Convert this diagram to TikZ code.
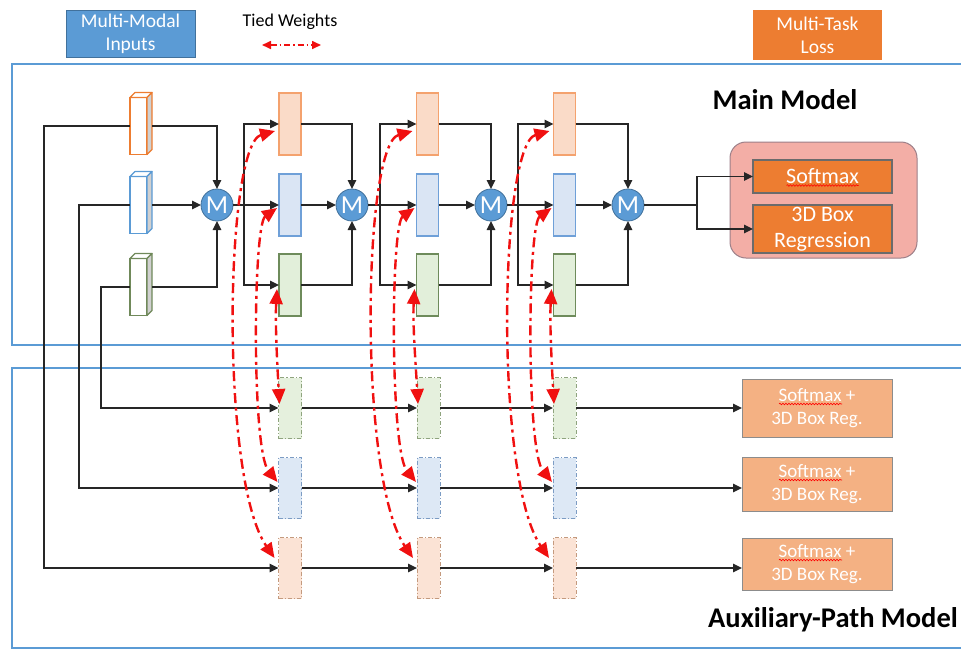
\documentclass[tikz,border=0pt]{standalone}
\usepackage{fontspec}
\setmainfont{Carlito}
\usetikzlibrary{arrows.meta,decorations.pathmorphing,calc}

\definecolor{frameblue}{HTML}{5B9BD5}
\definecolor{inblue}{HTML}{5B9BD5}
\definecolor{inblueedge}{HTML}{41719C}
\definecolor{lossorange}{HTML}{ED7D31}
\definecolor{headedge}{HTML}{6B6B6B}
\definecolor{pinkbg}{HTML}{F3AEA6}
\definecolor{pinkedge}{HTML}{9C7F88}
\definecolor{auxout}{HTML}{F4B183}
\definecolor{auxoutedge}{HTML}{8C8C8C}
\definecolor{ofill}{HTML}{FADBC8}
\definecolor{oedge}{HTML}{F4A26E}
\definecolor{bfill}{HTML}{DAE5F4}
\definecolor{bedge}{HTML}{6FA0D8}
\definecolor{gfill}{HTML}{E2EFDA}
\definecolor{gedge}{HTML}{6E8B5B}
\definecolor{oafill}{HTML}{FBE3D5}
\definecolor{oaedge}{HTML}{C49A7E}
\definecolor{bafill}{HTML}{DDE8F5}
\definecolor{baedge}{HTML}{7C9CC4}
\definecolor{gafill}{HTML}{E5F0DD}
\definecolor{gaedge}{HTML}{8FA47E}
\definecolor{cubeo}{HTML}{ED7D31}
\definecolor{cubeb}{HTML}{5B9BD5}
\definecolor{cubeg}{HTML}{70895A}
\definecolor{cubeside}{HTML}{D0D0D0}
\definecolor{wire}{HTML}{262626}
\definecolor{tiedred}{HTML}{F01010}

% input modality drawn as a small cuboid: name, edge colour, x, y
\newcommand\inputcube[4]{%
  \node[cubefront, draw=#2] (#1) at (#3,#4) {};
  \draw[draw=#2, line width=1.2pt, fill=white, line join=round]
    (#1.north west) -- ++(5,-5) -- ++(17,0) -- (#1.north east) -- cycle;
  \draw[draw=#2, line width=1.2pt, fill=cubeside, line join=round]
    (#1.north east) -- ++(5,-5) -- ($(#1.south east)+(5,-5)$) -- (#1.south east) -- cycle;
}

\begin{document}
\begin{tikzpicture}[x=1pt, y=-1pt,
  every node/.style={outer sep=0pt},
  wireline/.style={draw=wire, line width=1.3pt},
  wirearrow/.style={wireline, -{Triangle[length=9pt,width=8.5pt]}},
  tiedline/.style={draw=tiedred, line width=2.4pt,
    dash pattern=on 10pt off 4.5pt on 3pt off 4.5pt,
    {Triangle[length=15pt,width=13pt]}-{Triangle[length=15pt,width=13pt]}},
  tiedlegend/.style={draw=tiedred, line width=1.6pt,
    dash pattern=on 6pt off 3pt on 1.5pt off 3pt,
    {Triangle[length=9pt,width=8pt]}-{Triangle[length=9pt,width=8pt]}},
  stage/.style={rectangle, minimum width=22pt, minimum height=62pt, inner sep=0pt, line width=1.2pt},
  ostage/.style={stage, draw=oedge, fill=ofill},
  bstage/.style={stage, draw=bedge, fill=bfill},
  gstage/.style={stage, draw=gedge, fill=gfill},
  auxstage/.style={stage, minimum width=23pt, minimum height=61pt, line width=1pt,
    dash pattern=on 4pt off 2pt on 1.2pt off 2pt},
  oaux/.style={auxstage, draw=oaedge, fill=oafill},
  baux/.style={auxstage, draw=baedge, fill=bafill},
  gaux/.style={auxstage, draw=gaedge, fill=gafill},
  cubefront/.style={rectangle, minimum width=17pt, minimum height=57pt, inner sep=0pt,
    fill=white, line width=1.2pt},
  mergenode/.style={circle, minimum size=32pt, inner sep=0pt, fill=inblue,
    draw=inblueedge, line width=0.8pt, text=white, font=\fontsize{26}{26}\selectfont},
  headbox/.style={rectangle, draw=headedge, line width=1.2pt, fill=lossorange,
    text=white, align=center, minimum width=139pt, inner sep=0pt,
    font=\fontsize{22}{25.5}\selectfont},
  auxheadbox/.style={rectangle, draw=auxoutedge, line width=1pt, fill=auxout,
    text=white, align=center, minimum width=150pt, inner sep=0pt,
    font=\fontsize{19}{23.5}\selectfont},
  legendbox/.style={rectangle, minimum width=129pt, inner sep=0pt, text=white,
    align=center, font=\fontsize{19.5}{23}\selectfont},
  frameline/.style={draw=frameblue, line width=2pt},
  titletext/.style={font=\bfseries\fontsize{28.5}{30}\selectfont},
  spellmark/.style={draw=red, line width=0.6pt, decorate,
    decoration={snake, amplitude=0.8pt, segment length=3pt}}
]
\useasboundingbox (0,0) rectangle (961,649);
\fill[white] (0,0) rectangle (961,649);

% legend row
\node[legendbox, fill=inblue, draw=inblueedge, line width=0.8pt, minimum height=47pt]
  (inputs) at (130.5,33.5) {Multi-Modal\\Inputs};
\node[legendbox, fill=lossorange, minimum height=50pt]
  (loss) at (817.5,35) {Multi-Task\\Loss};
\node[font=\fontsize{18}{20}\selectfont, text=black] (tiedlabel) at (290,22) {Tied Weights};
\coordinate (tw1) at (262,45);
\coordinate (tw2) at (321,45);
\draw[tiedlegend] (tw1) -- (tw2);

% model frames
\draw[frameline] (12,64) rectangle (980,345);
\draw[frameline] (12,368) rectangle (980,648);
\node[titletext] (maintitle) at (785,100) {Main Model};
\node[titletext] (auxtitle) at (833,620) {Auxiliary-Path Model};

% inputs
\inputcube{inO}{cubeo}{138.5}{126}
\inputcube{inB}{cubeb}{138.5}{205}
\inputcube{inG}{cubeg}{138.5}{287}

% main model stages
\foreach \c/\x in {1/290,2/427.5,3/564.5}{
  \node[ostage] (o\c) at (\x,124) {};
  \node[bstage] (b\c) at (\x,205) {};
  \node[gstage] (g\c) at (\x,285) {};
}
\node[mergenode] (M1) at (217,205) {M};
\node[mergenode] (M2) at (352,205) {M};
\node[mergenode] (M3) at (491,205) {M};
\node[mergenode] (M4) at (628,205) {M};
\coordinate (j1) at (244,205);
\coordinate (j2) at (380,205);
\coordinate (j3) at (518,205);
\coordinate (j4) at (697,205);

% output heads of the main model
\node[rectangle, rounded corners=16pt, minimum width=187pt, minimum height=116pt,
  fill=pinkbg, draw=pinkedge, line width=1pt] (headgroup) at (823.5,200) {};
\node[headbox, minimum height=33pt] (sm) at (822.5,176.5) {Softmax};
\node[headbox, minimum height=48pt] (bx) at (822.5,229) {3D Box\\Regression};
\draw[spellmark] ([shift={(-36,9)}]sm.center) -- ([shift={(36,9)}]sm.center);

% auxiliary-path stages
\foreach \c/\x in {1/290,2/428.5,3/564.5}{
  \node[gaux] (ag\c) at (\x,408) {};
  \node[baux] (ab\c) at (\x,488) {};
  \node[oaux] (ao\c) at (\x,568) {};
}
\node[auxheadbox, minimum height=58pt] (h1) at (817,408) {Softmax +\\3D Box Reg.};
\node[auxheadbox, minimum height=54pt] (h2) at (817,484) {Softmax +\\3D Box Reg.};
\node[auxheadbox, minimum height=52pt] (h3) at (817,564) {Softmax +\\3D Box Reg.};
\foreach \h in {h1,h2,h3}{
  \draw[spellmark] ([shift={(-38,-4)}]\h.center) -- ([shift={(25,-4)}]\h.center);
}

% inputs into the first merge
\draw[wirearrow] ([xshift=5pt]inO.east) -| (M1.north);
\draw[wirearrow] ([xshift=5pt]inB.east) -- (M1.west);
\draw[wirearrow] ([xshift=5pt]inG.east) -| (M1.south);

% inputs routed down to the auxiliary paths
\coordinate (busO) at (44,0);
\coordinate (busB) at (79,0);
\coordinate (busG) at (101,0);
\draw[wirearrow] (inO.west) -- (inO.west -| busO) |- (ao1.west);
\draw[wirearrow] (inB.west) -- (inB.west -| busB) |- (ab1.west);
\draw[wirearrow] (inG.west) -- (inG.west -| busG) |- (ag1.west);

% merge outputs fanned out to the next stage
\draw[wirearrow] (M1.east) -- (b1.west);
\draw[wirearrow] (j1) |- (o1.west);
\draw[wirearrow] (j1) |- (g1.west);
\draw[wirearrow] (M2.east) -- (b2.west);
\draw[wirearrow] (j2) |- (o2.west);
\draw[wirearrow] (j2) |- (g2.west);
\draw[wirearrow] (M3.east) -- (b3.west);
\draw[wirearrow] (j3) |- (o3.west);
\draw[wirearrow] (j3) |- (g3.west);

% stage outputs into the following merge
\draw[wirearrow] (o1.east) -| (M2.north);
\draw[wirearrow] (b1.east) -- (M2.west);
\draw[wirearrow] (g1.east) -| (M2.south);
\draw[wirearrow] (o2.east) -| (M3.north);
\draw[wirearrow] (b2.east) -- (M3.west);
\draw[wirearrow] (g2.east) -| (M3.south);
\draw[wirearrow] (o3.east) -| (M4.north);
\draw[wirearrow] (b3.east) -- (M4.west);
\draw[wirearrow] (g3.east) -| (M4.south);

% final merge into the loss heads
\draw[wireline] (M4.east) -- (j4);
\draw[wirearrow] (j4) |- (sm.west);
\draw[wirearrow] (j4) |- (bx.west);

% auxiliary chains
\foreach \r/\h in {g/h1,b/h2,o/h3}{
  \draw[wirearrow] (a\r1.east) -- (a\r2.west);
  \draw[wirearrow] (a\r2.east) -- (a\r3.west);
  \draw[wirearrow] (a\r3.east) -- (\h.west |- a\r3.east);
}

% tied weights between main and auxiliary stages
\foreach \c in {1,2,3}{
  \draw[tiedline] ([shift={(-4,7)}]o\c.west) .. controls +(-50,14) and +(-55,-80) .. ([shift={(-4,-10)}]ao\c.west);
  \draw[tiedline] ([shift={(-2,3)}]b\c.west) .. controls +(-24,17) and +(-26,-32) .. ([shift={(-1,-6)}]ab\c.west);
  \draw[tiedline] ([shift={(-2,4)}]g\c.west) .. controls +(-2,35) and +(-2,-35) .. ([shift={(1,-4)}]ag\c.west);
}
\end{tikzpicture}
\end{document}
